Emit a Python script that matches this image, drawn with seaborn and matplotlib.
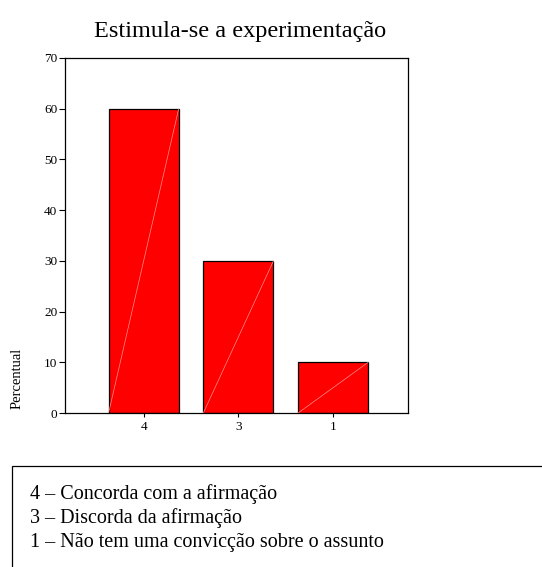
import matplotlib
matplotlib.use("Agg")
import matplotlib.pyplot as plt
import seaborn as sns
import pandas as pd
from matplotlib.patches import Rectangle

categories = ["4", "3", "1"]
values = [60, 30, 10]
yticks = [0, 10, 20, 30, 40, 50, 60, 70]
title = "Estimula-se a experimentação"
ylabel = "Percentual"
legend_lines = ["4 – Concorda com a afirmação",
                "3 – Discorda da afirmação",
                "1 – Não tem uma convicção sobre o assunto"]

sns.set_style("white")
plt.rcParams['font.family'] = ['Liberation Serif', 'DejaVu Serif']
plt.rcParams['text.color'] = 'black'
plt.rcParams['xtick.color'] = 'black'
plt.rcParams['ytick.color'] = 'black'

df = pd.DataFrame({"cat": categories, "val": values})

fig = plt.figure(figsize=(5.42, 5.67), dpi=100)
W, H = 542, 567
ax = fig.add_axes([65 / W, 1 - 413 / H, (408 - 65) / W, (413 - 58) / H])

sns.barplot(data=df, x="cat", y="val", order=categories, color="#FF0000",
            saturation=1, edgecolor="black", linewidth=0.9, width=0.74, ax=ax)

for p in ax.patches:
    x0 = p.get_x(); w = p.get_width(); h = p.get_height()
    ax.plot([x0, x0 + w], [0, h], color="#FF9090", lw=0.5, zorder=3)

ax.set_xlim(-0.83, 2.79)
ax.set_ylim(0, 70)
ax.set_yticks(yticks)
ax.set_yticklabels([str(t) for t in yticks], fontsize=9.5)
ax.tick_params(axis="x", labelsize=9.5, length=3, width=0.8, direction="out", bottom=True, pad=3)
ax.tick_params(axis="y", length=4, width=0.8, direction="out", left=True, pad=1.5)
ax.set_xlabel("")
ax.set_ylabel("")
for s in ax.spines.values():
    s.set_color("black")
    s.set_linewidth(0.9)

fig.text(240 / W, 1 - 32 / H, title, ha="center", va="center", fontsize=17.5)
fig.text(17 / W, 1 - 378 / H, ylabel, ha="center", va="center", rotation=90, fontsize=10.5)

fig.patches.append(Rectangle((12 / W, -0.1), 0.99, 1 - 466 / H + 0.1,
                             transform=fig.transFigure, fill=False,
                             edgecolor="black", linewidth=0.9))
for i, line in enumerate(legend_lines):
    fig.text(30 / W, 1 - (494 + 24 * i) / H, line, ha="left", va="center", fontsize=14.5)

fig.savefig("out.png", dpi=100)
